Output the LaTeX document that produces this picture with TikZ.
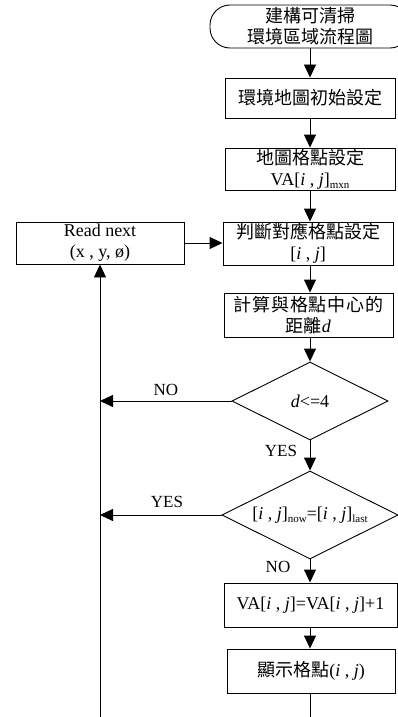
\documentclass[tikz,border=0pt]{standalone}
\usepackage{fontspec}
\setmainfont{Liberation Serif}
\newfontfamily\cjk{Noto Sans CJK TC}
\usetikzlibrary{shapes.geometric,arrows.meta}
\newcommand\sbx[1]{\raisebox{-0.35ex}{\fontsize{11}{11}\selectfont #1}}
\begin{document}
\begin{tikzpicture}[x=1pt,y=-1pt,line width=0.9pt,
  font=\fontsize{18}{21}\selectfont,
  box/.style={draw, rectangle, minimum width=170pt, minimum height=42pt, inner sep=0pt, align=center},
  term/.style={draw, rectangle, rounded corners=20pt, minimum width=200pt, minimum height=43pt, inner sep=0pt, align=center},
  dec/.style={draw, diamond, shape aspect=2, inner sep=0pt, align=center},
  lbl/.style={inner sep=0pt, font=\fontsize{17}{17}\selectfont},
  arr/.style={-{Triangle[length=13pt,width=12pt]}}]
\useasboundingbox (0,0) rectangle (398,717);
\clip (0,0) rectangle (398,717);
\node[term] (start) at (310,26.5) {\cjk 建構可清掃\\\cjk 環境區域流程圖};
\node[box, minimum height=40pt] (b1) at (310,98) {\cjk 環境地圖初始設定};
\node[box] (b2) at (310,169) {\cjk 地圖格點設定\\VA[\textit{i} , \textit{j}]\sbx{mxn}};
\node[box, minimum height=43pt] (b3) at (308,243.5) {\cjk 判斷對應格點設定\\{}[\textit{i} , \textit{j}]};
\node[box, minimum height=44pt, minimum width=169pt] (b4) at (308.5,315) {\makebox[150pt][s]{\cjk 計\hfil 算\hfil 與\hfil 格\hfil 點\hfil 中\hfil 心\hfil 的}\\{\cjk 距離}\textit{d}};
\node[dec, minimum width=156pt, minimum height=78pt] (d1) at (310,401) {\textit{d}<=4};
\node[dec, minimum width=176pt, minimum height=88pt] (d2) at (310,515) {[\textit{i} , \textit{j}]\sbx{now}=[\textit{i} , \textit{j}]\sbx{last}};
\node[box, minimum width=173pt, minimum height=44pt] (b5) at (310.5,605) {VA[\textit{i} , \textit{j}]=VA[\textit{i} , \textit{j}]+1};
\node[box, minimum width=168pt, minimum height=44pt] (b6) at (311,671) {{\cjk 顯示格點}(\textit{i} , \textit{j})};
\node[box, minimum width=168pt, minimum height=42pt] (rn) at (100,243) {Read next\\(x , y, ø)};
\node[lbl] (no1) at (166,390) {NO};
\node[lbl] (yes1) at (281,451) {YES};
\node[lbl] (yes2) at (167,502) {YES};
\node[lbl] (no2) at (278,567) {NO};
\coordinate (j1) at (100,401);
\coordinate (j2) at (100,515);
\coordinate (bl) at (100,722);
\coordinate (bc) at (310,722);
\draw[arr] (start.south -| b1.north) -- (b1.north);
\draw[arr] (b1.south) -- (b1.south |- b2.north);
\draw[arr] (b2.south) -- (b2.south |- b3.north);
\draw[arr] (b3.south -| b2.south) -- (b2.south |- b4.north);
\draw[arr] (b4.south -| d1.north) -- (d1.north);
\draw[arr] (d1.south) -- (d2.north);
\draw[arr] (d2.south) -- (d2.south |- b5.north);
\draw[arr] (b5.south -| d2.south) -- (d2.south |- b6.north);
\draw (b6.south -| bc) -- (bc);
\draw[arr] (rn.east) -- (rn.east -| b3.west);
\draw[arr] (d1.west) -- (j1);
\draw[arr] (d2.west) -- (j2);
\draw[arr] (bl) -- (rn.south);
\end{tikzpicture}
\end{document}
